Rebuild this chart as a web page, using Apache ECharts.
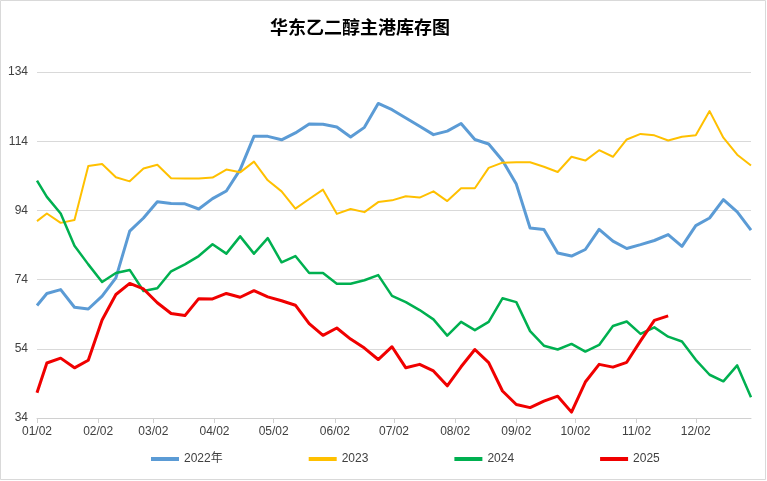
<!DOCTYPE html>
<html>
<head>
<meta charset="utf-8">
<script src="https://cdn.jsdelivr.net/npm/echarts@6/dist/echarts.min.js"></script>
<style>
html,body{margin:0;padding:0;background:#fff;}
#chart{width:767px;height:481px;}
</style>
</head>
<body>
<div id="chart"></div>
<script>
// Days after 01/02 of each weekly observation
const dayOffsets = [0,5,12,19,26,33,40,47,54,61,68,75,82,89,96,103,110,117,124,131,138,145,152,159,166,173,180,187,194,201,208,215,222,229,236,243,250,257,264,271,278,285,292,299,306,313,320,327,334,341,348,355,362];
// Month tick positions (days after 01/02) and labels
const tickDays = [0,31,59,90,120,151,181,212,243,273,304,334];
const tickLabels = ['01/02','02/02','03/02','04/02','05/02','06/02','07/02','08/02','09/02','10/02','11/02','12/02'];
const yTicks = [34,54,74,94,114,134];

const seriesNames = ['2022年','2023','2024','2025'];
const v2022 = [66.5,70.0,71.1,66.0,65.5,69.2,74.5,88.0,91.8,96.5,96.0,95.9,94.4,97.4,99.6,105.8,115.4,115.4,114.4,116.4,119.0,118.9,118.1,115.2,118.0,124.9,123.1,120.7,118.3,115.9,116.9,119.1,114.5,113.2,108.4,101.6,88.9,88.5,81.7,80.8,82.7,88.5,85.1,83.0,84.1,85.3,87.0,83.6,89.6,91.8,97.1,93.6,88.3];
const v2023 = [90.9,93.1,90.4,91.2,106.8,107.4,103.6,102.4,106.1,107.2,103.3,103.2,103.2,103.5,105.8,105.0,108.1,102.7,99.5,94.5,97.3,100.0,93.0,94.4,93.5,96.4,96.9,98.1,97.7,99.5,96.7,100.4,100.4,106.3,107.8,107.9,107.9,106.6,105.1,109.5,108.4,111.4,109.5,114.5,116.1,115.7,114.2,115.3,115.7,122.7,115.0,110.1,107.0];
const v2024 = [102.6,97.9,93.1,83.8,78.4,73.3,75.9,76.8,70.7,71.5,76.4,78.4,80.8,84.2,81.5,86.5,81.5,86.0,79.0,80.8,75.9,75.9,72.8,72.8,73.8,75.3,69.3,67.5,65.2,62.5,57.8,61.8,59.4,61.8,68.6,67.5,59.1,54.9,53.8,55.4,53.2,55.1,60.6,61.9,58.3,60.2,57.5,56.1,50.8,46.5,44.6,49.2,40.0];
const v2025 = [41.3,49.9,51.3,48.5,50.7,62.3,69.7,72.9,71.3,67.3,64.2,63.6,68.5,68.4,70.0,68.9,70.8,69.0,67.9,66.6,61.3,57.9,60.0,56.8,54.2,50.9,54.6,48.5,49.5,47.6,43.3,48.8,53.8,50.0,41.8,37.9,37.0,38.9,40.3,35.7,44.4,49.5,48.7,50.1,56.3,62.2,63.5];

const colors = ['#5B9BD5','#FFC000','#00B050','#F00000'];
const widths = [3,2,2.5,3];
const allValues = [v2022,v2023,v2024,v2025];

function pairs(vals){ return vals.map((v,i)=>[dayOffsets[i], v]); }

const chart = echarts.init(document.getElementById('chart'), null, {renderer:'canvas'});
const font = "'Liberation Sans','Noto Sans CJK SC',sans-serif";
chart.setOption({
  animation:false,
  backgroundColor:'#ffffff',
  textStyle:{fontFamily:font},
  title:{
    text:'华东乙二醇主港库存图',
    left:265, top:13,
    textStyle:{fontFamily:"'Noto Sans CJK SC',sans-serif",fontWeight:'bold',fontSize:18,color:'#000'}
  },
  graphic:[{type:'rect',shape:{x:0.5,y:0.5,width:765,height:479},style:{fill:'none',stroke:'#d9d9d9',lineWidth:1},silent:true}],
  legend:{
    left:146, top:448,
    itemWidth:28, itemHeight:4, itemGap:86,
    icon:'rect',
    textStyle:{fontSize:12,color:'#404040',fontFamily:font},
    data:seriesNames
  },
  grid:{left:37,right:16,top:72,bottom:63},
  xAxis:{
    type:'value', min:0, max:362,
    splitLine:{show:false},
    axisLine:{show:true,lineStyle:{color:'#d0d0d0'}},
    axisTick:{show:true,length:5,customValues:tickDays,lineStyle:{color:'#d0d0d0'}},
    axisLabel:{
      customValues:tickDays, margin:8, fontSize:12, color:'#404040',
      formatter:function(v){const k=tickDays.indexOf(Math.round(v));return k>=0?tickLabels[k]:'';}
    }
  },
  yAxis:{
    type:'value', min:34, max:134, interval:20,
    axisLine:{show:false}, axisTick:{show:false},
    splitLine:{lineStyle:{color:'#d9d9d9'}},
    axisLabel:{margin:9,fontSize:12,color:'#404040'}
  },
  series:allValues.map((vals,k)=>({
    name:seriesNames[k], type:'line', data:pairs(vals),
    symbol:'none', smooth:false,
    lineStyle:{color:colors[k],width:widths[k],join:'round'},
    itemStyle:{color:colors[k]}
  }))
});
</script>
</body>
</html>
